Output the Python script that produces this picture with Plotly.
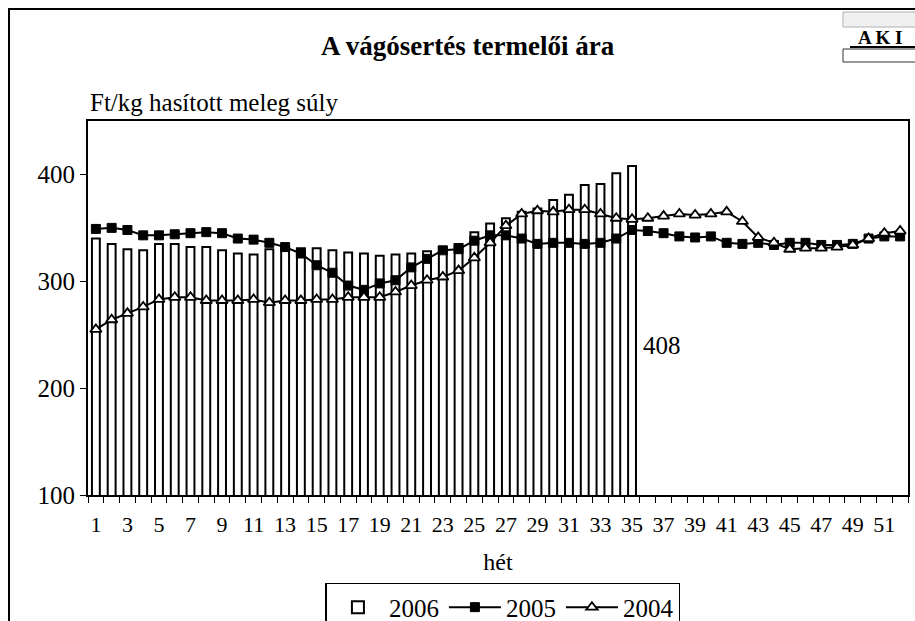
import plotly.graph_objects as go

weeks = list(range(1, 53))
weeks_2006 = list(range(1, 36))

price_2006 = [340, 335, 330, 329, 335, 335, 332, 332, 329, 326, 325, 330, 332, 331, 331, 329,
              327, 326, 324, 325, 326, 328, 332, 335, 346, 354, 359, 365, 368, 376, 381, 390,
              391, 401, 408]
price_2005 = [349, 350, 348, 343, 343, 344, 345, 346, 345, 340, 339, 336, 332, 326, 315, 308,
              296, 292, 298, 301, 313, 321, 329, 330, 338, 343, 343, 340, 335, 336, 336, 335,
              336, 340, 348, 347, 345, 342, 341, 342, 336, 335, 336, 334, 336, 336, 334, 334,
              335, 340, 342, 342]
price_2004 = [255, 264, 270, 276, 283, 285, 285, 282, 282, 282, 283, 280, 282, 282, 283, 283,
              285, 285, 285, 290, 296, 301, 304, 310, 322, 336, 352, 363, 366, 365, 367, 367,
              363, 359, 358, 359, 361, 363, 362, 363, 365, 356, 341, 336, 330, 331, 331, 332,
              334, 340, 345, 347]

y_ticks = [100, 200, 300, 400]
x_tick_labels = [str(w) for w in range(1, 52, 2)]

FONT = "Liberation Serif"

fig = go.Figure()
fig.add_trace(go.Bar(
    x=weeks_2006, y=price_2006, name="2006", width=0.5,
    marker=dict(color="white", line=dict(color="black", width=2)),
))
fig.add_trace(go.Scatter(
    x=weeks, y=price_2005, name="2005", mode="lines+markers",
    line=dict(color="black", width=2),
    marker=dict(symbol="square", size=9, color="black", line=dict(color="black", width=1)),
))
fig.add_trace(go.Scatter(
    x=weeks, y=price_2004, name="2004", mode="lines+markers",
    line=dict(color="black", width=2),
    marker=dict(symbol="triangle-up", size=10, color="white", line=dict(color="black", width=1.8)),
))

fig.add_annotation(x=35, y=240, text=str(price_2006[-1]), showarrow=False,
                   xanchor="left", xshift=9, font=dict(size=25, color="black", family=FONT))

fig.update_layout(
    width=915, height=621,
    margin=dict(l=88, r=7, t=121, b=126, autoexpand=False),
    paper_bgcolor="white", plot_bgcolor="white",
    font=dict(family=FONT, size=25, color="black"),
    title=dict(text="<b>A vágósertés termelői ára</b>", x=0.463, xanchor="center",
               xref="paper", y=0.926, yanchor="middle", font=dict(size=27, family=FONT)),
    showlegend=True,
    legend=dict(orientation="h", x=0.506, xanchor="center", y=-0.235, yanchor="top",
                bordercolor="black", borderwidth=1.5, bgcolor="white",
                font=dict(size=25, family=FONT), itemwidth=52, tracegroupgap=0),
    bargap=0.5,
)

fig.update_xaxes(
    type="linear", range=[0.5, 52.5],
    tickmode="array", tickvals=list(range(1, 52, 2)), ticktext=x_tick_labels,
    ticks="", ticklabelstandoff=9, automargin=False,
    minor=dict(ticks="outside", tickmode="linear", tick0=0.5, dtick=1, ticklen=6,
               tickcolor="black", tickwidth=1),
    showline=True, linecolor="black", linewidth=2, mirror=True,
    showgrid=False, zeroline=False,
    tickfont=dict(size=22, family=FONT),
    title=dict(text="hét", font=dict(size=24, family=FONT), standoff=17),
)
fig.update_yaxes(
    range=[100, 450], tickmode="array", tickvals=y_ticks,
    ticks="outside", ticklen=6, tickcolor="black", tickwidth=1,
    showline=True, linecolor="black", linewidth=2, mirror=True,
    showgrid=False, zeroline=False, automargin=False,
    tickfont=dict(size=25, family=FONT),
)

fig.add_annotation(xref="paper", yref="paper", x=0.0, y=1.0, yshift=3,
                   text="Ft/kg hasított meleg súly", showarrow=False,
                   xanchor="left", yanchor="bottom", font=dict(size=25, family=FONT))

# outer chart border
fig.add_shape(type="rect", xref="paper", yref="paper",
              x0=(9 - 88) / 820, x1=(930 - 88) / 820,
              y0=-0.5, y1=1 + (121 - 9) / 374,
              line=dict(color="black", width=2), fillcolor="rgba(0,0,0,0)", layer="below")

# AKI logo
fig.add_shape(type="rect", xref="paper", yref="paper",
              x0=(843 - 88) / 820, x1=(918 - 88) / 820,
              y0=1 + (121 - 27) / 374, y1=1 + (121 - 12) / 374,
              line=dict(color="#b0b0b0", width=1), fillcolor="#f0f0f0")
fig.add_shape(type="rect", xref="paper", yref="paper",
              x0=(843 - 88) / 820, x1=(918 - 88) / 820,
              y0=1 + (121 - 62) / 374, y1=1 + (121 - 49) / 374,
              line=dict(color="#333333", width=1), fillcolor="white")
fig.add_shape(type="line", xref="paper", yref="paper",
              x0=(850 - 88) / 820, x1=(918 - 88) / 820,
              y0=1 + (121 - 47) / 374, y1=1 + (121 - 47) / 374,
              line=dict(color="black", width=2))
fig.add_annotation(xref="paper", yref="paper", x=(880 - 88) / 820, y=1 + (121 - 37) / 374,
                   text="<b>A K I</b>", showarrow=False, xanchor="center", yanchor="middle",
                   font=dict(size=19, family=FONT, color="black"))

fig.write_html("out.html",
               config={"displayModeBar": False},
               post_script="document.body.style.margin='0px';"
                           "document.body.style.overflow='hidden';"
                           "document.documentElement.style.overflow='hidden';")
